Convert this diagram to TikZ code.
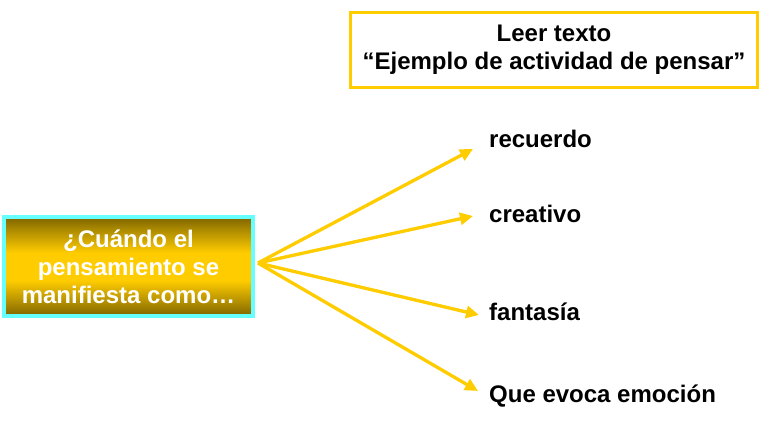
\documentclass[tikz,border=0pt]{standalone}
\usepackage{fontspec}
\setmainfont{Liberation Sans}
\usetikzlibrary{arrows.meta}
\definecolor{gold}{HTML}{FFCC00}
\definecolor{darkolive}{HTML}{7F6600}
\definecolor{aqua}{HTML}{66FFFF}
\pgfdeclareverticalshading{goldband}{100bp}{color(0bp)=(darkolive); color(25bp)=(darkolive); color(43bp)=(gold); color(57bp)=(gold); color(75bp)=(darkolive); color(100bp)=(darkolive)}
\begin{document}
\begin{tikzpicture}[x=1pt,y=-1pt,
  txt/.style={font=\fontsize{24}{28}\selectfont\bfseries},
  lbl/.style={txt, anchor=west, inner sep=0pt},
  arr/.style={draw=gold, line width=3.3pt, -{Triangle[length=13pt,width=12pt]}}]
\useasboundingbox[fill=white] (0,0) rectangle (760,427);
\node[draw=gold, line width=3pt, minimum width=407pt, minimum height=75pt,
      align=center, txt, inner sep=0pt] (top) at (554,50)
  {Leer texto\\“Ejemplo de actividad de pensar”};
\node[draw=aqua, line width=4pt, minimum width=249pt, minimum height=99pt,
      shading=goldband, text=white, align=center, txt, inner sep=0pt] (q) at (128.5,266.5)
  {¿Cuándo el\\pensamiento se\\manifiesta como…};
\node[lbl] (recuerdo) at (489,139) {recuerdo};
\node[lbl] (creativo) at (489,214) {creativo};
\node[lbl] (fantasia) at (489,312) {fantasía};
\node[lbl] (emocion) at (489,396) {Que evoca emoción};
\coordinate (src) at (258,263);
\coordinate (t1) at (473,149);
\coordinate (t2) at (473,216);
\coordinate (t3) at (479,315);
\coordinate (t4) at (478,391);
\draw[arr] (src) -- (t1);
\draw[arr] (src) -- (t2);
\draw[arr] (src) -- (t3);
\draw[arr] (src) -- (t4);
\end{tikzpicture}
\end{document}
